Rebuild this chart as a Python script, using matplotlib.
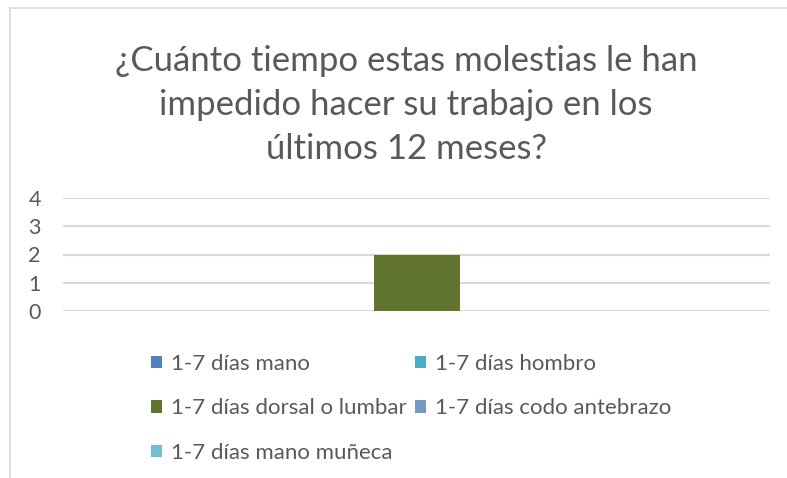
import matplotlib
matplotlib.use("Agg")
import matplotlib.pyplot as plt
from matplotlib.patches import Patch, Rectangle

title = "¿Cuánto tiempo estas molestias le han\nimpedido hacer su trabajo en los\núltimos 12 meses?"
series = ["1-7 días mano", "1-7 días hombro", "1-7 días dorsal o lumbar",
          "1-7 días codo antebrazo", "1-7 días mano muñeca"]
values = [0, 0, 2, 0, 0]
colors = ["#4F81BD", "#4BACC6", "#62752F", "#7399C9", "#74BED3"]
yticks = [0, 1, 2, 3, 4]

FONT = ["Lato", "DejaVu Sans"]
GRAY = "#595959"

fig = plt.figure(figsize=(7.87, 4.78), dpi=100)
W, H = 787, 478

# chart border
fig.patches.append(Rectangle((10 / W, -0.1), 1.2, 1 - 8 / H + 0.1,
                             transform=fig.transFigure, fill=False,
                             edgecolor="#D9D9D9", linewidth=1.2))

ax = fig.add_axes([63 / W, 1 - 311 / H, (770 - 63) / W, (311 - 198) / H])
bw = 86 / 707
n = len(series)
for i, (s, v, c) in enumerate(zip(series, values, colors)):
    ax.bar((i - (n - 1) / 2) * bw, v, width=bw, color=c, label=s, zorder=3)
ax.set_xlim(-0.5, 0.5)
ax.set_ylim(0, 4)
ax.set_yticks(yticks)
ax.set_xticks([])
for sp in ax.spines.values():
    sp.set_visible(False)
ax.grid(axis="y", color="#D9D9D9", linewidth=1.5, zorder=0)
ax.tick_params(axis="y", length=0, pad=16, labelsize=15.5, labelcolor=GRAY)
for t in ax.get_yticklabels():
    t.set_fontfamily(FONT)

fig.text(406 / W, 1 - 105 / H, title, ha="center", va="center",
         multialignment="center", fontsize=25, color=GRAY,
         family=FONT, linespacing=1.45)

order = [0, 2, 4, 1, 3]
handles = [Patch(facecolor=colors[i], edgecolor="none") for i in order]
labels = [series[i] for i in order]
leg = fig.legend(handles, labels, ncol=2, loc="upper left",
                 bbox_to_anchor=(131 / W, 1 - 334 / H),
                 frameon=False, handlelength=0.5, handleheight=0.5,
                 handletextpad=0.4, columnspacing=0.35, labelspacing=1.1,
                 prop={"family": FONT, "size": 16})
for t in leg.get_texts():
    t.set_color(GRAY)

fig.savefig("out.png", dpi=100)
